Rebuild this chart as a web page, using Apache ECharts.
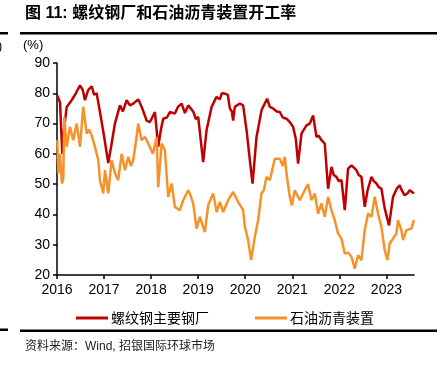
<!DOCTYPE html>
<html><head><meta charset="utf-8">
<script src="https://cdn.jsdelivr.net/npm/echarts@6/dist/echarts.min.js"></script>
<style>html,body{margin:0;padding:0;background:#fff}#c{width:445px;height:365px}</style>
</head><body><div id="c"></div>
<script>
const titleText = '图 11: 螺纹钢厂和石油沥青装置开工率';
const sourceText = '资料来源：Wind, 招银国际环球市场';
const yearTicks = [2016, 2017, 2018, 2019, 2020, 2021, 2022, 2023];
const seriesNames = ['螺纹钢主要钢厂', '石油沥青装置'];

// 螺纹钢主要钢厂: time (decimal year) and value (%)
const steelT = [2016.006,2016.064,2016.113,2016.149,2016.206,2016.312,2016.40,2016.488,2016.55,2016.594,2016.66,2016.737,2016.79,2016.843,2016.913,2016.998,2017.089,2017.146,2017.231,2017.338,2017.40,2017.48,2017.55,2017.62,2017.726,2017.80,2017.904,2017.974,2018.081,2018.151,2018.208,2018.257,2018.335,2018.399,2018.505,2018.569,2018.648,2018.718,2018.788,2018.82,2018.894,2018.95,2019.0,2019.036,2019.106,2019.178,2019.285,2019.39,2019.46,2019.503,2019.567,2019.63,2019.673,2019.715,2019.743,2019.779,2019.885,2019.955,2020.028,2020.098,2020.155,2020.24,2020.346,2020.395,2020.465,2020.522,2020.592,2020.67,2020.735,2020.798,2020.877,2020.947,2021.017,2021.074,2021.123,2021.195,2021.301,2021.372,2021.442,2021.478,2021.514,2021.56,2021.62,2021.69,2021.76,2021.832,2021.88,2021.938,2021.987,2022.045,2022.115,2022.185,2022.257,2022.306,2022.363,2022.41,2022.469,2022.539,2022.60,2022.682,2022.73,2022.788,2022.837,2022.894,2022.964,2023.055,2023.14,2023.219,2023.282,2023.325,2023.389,2023.45,2023.495,2023.537,2023.586];
const steelV = [79.3,77,60,68,75.5,77.7,80,82.6,81,77.7,81,82.3,79.5,80,73.8,66,57,62,70,76,74,77.7,76,76.6,78,75.5,71,70.5,73.8,62.3,68,71.6,72,73.8,73.3,75.5,76.6,73.5,76,76,74,71.5,72.2,71.6,57.3,67.8,75.5,78.8,78,80,79.9,79.5,75,74,71,75.5,76.6,76,67.8,57.9,50.2,65.6,74.4,76,78.2,75.5,75,74,73.8,72,71.6,70.5,68.9,65,56.8,66.7,69.4,70,72.7,72.2,65.6,66,64.5,63.4,48.5,55.7,53,52.4,51,51.3,41.4,55.1,56.2,55.5,54.6,53,52.4,42.5,48,52.4,51,50.2,49,48.5,42,36.4,45.8,48.5,49.6,48,46.3,47,48,47.5,46.9];

// 石油沥青装置
const asphaltT = [2016.006,2016.03,2016.064,2016.106,2016.134,2016.155,2016.206,2016.276,2016.346,2016.418,2016.488,2016.558,2016.631,2016.68,2016.737,2016.807,2016.877,2016.913,2016.983,2017.019,2017.089,2017.161,2017.231,2017.301,2017.374,2017.444,2017.514,2017.57,2017.62,2017.677,2017.726,2017.798,2017.868,2017.974,2018.038,2018.117,2018.151,2018.223,2018.293,2018.363,2018.435,2018.505,2018.611,2018.682,2018.788,2018.845,2018.894,2018.966,2019.036,2019.142,2019.212,2019.318,2019.391,2019.461,2019.531,2019.637,2019.743,2019.849,2019.955,2019.992,2020.062,2020.125,2020.204,2020.274,2020.346,2020.395,2020.452,2020.522,2020.628,2020.735,2020.798,2020.841,2020.877,2020.947,2020.99,2021.053,2021.159,2021.265,2021.335,2021.408,2021.478,2021.548,2021.62,2021.69,2021.76,2021.832,2021.902,2021.972,2022.045,2022.115,2022.185,2022.257,2022.327,2022.397,2022.469,2022.539,2022.609,2022.682,2022.752,2022.822,2022.894,2022.964,2023.021,2023.07,2023.14,2023.212,2023.246,2023.318,2023.352,2023.425,2023.531,2023.586];
const asphaltV = [64.5,53.6,60,50.2,52,72.2,62.3,68.9,64.5,70,62.3,75.5,66.7,68,66.1,62.3,57.9,51.3,46.9,54.6,47,57.9,53.6,51.3,60,54.6,59,56,57.9,64,70,64.5,65.6,62.3,60,65.6,49,63.4,61.2,45.8,50.2,42.5,41.4,44.7,48,46,43.6,35.3,39.2,34.2,43,46.9,40.8,44.1,40.8,44.7,47.4,44.1,41.4,35.9,31.5,24.9,32.6,38.1,47,48,52.4,51.3,58.4,58.4,56,59,53.5,45.8,43,48,44.7,48,50,44.7,46.9,40.3,43.6,39.2,45.8,41.4,38.1,33.7,32,27.1,27.4,26,22.1,26.5,24.9,34.8,40.3,39.2,45.8,40.3,35.9,28.2,24.9,30.4,32,33.7,38.1,34.8,31.5,34.8,35.3,38.1];

const steelData = steelT.map((t, i) => [t, steelV[i]]);
const asphaltData = asphaltT.map((t, i) => [t, asphaltV[i]]);

const chart = echarts.init(document.getElementById('c'));
const sans = '"Liberation Sans", Arial, "Noto Sans CJK SC", sans-serif';
const cjk = '"Noto Sans CJK SC", "Liberation Sans", sans-serif';
chart.setOption({
  animation: false,
  backgroundColor: '#fff',
  grid: { left: 57, right: 31, top: 63, bottom: 90 },
  xAxis: {
    type: 'value', min: 2016, max: 2023.586,
    axisLine: { show: true, lineStyle: { color: '#000', width: 1.5 } },
    axisTick: { show: true, length: 4, lineStyle: { color: '#000', width: 1.5 }, customValues: yearTicks },
    axisLabel: { customValues: yearTicks, color: '#000', fontSize: 14, fontFamily: sans, margin: 8,
      formatter: v => String(Math.round(v)) },
    splitLine: { show: false }
  },
  yAxis: {
    type: 'value', min: 20, max: 90, interval: 10,
    axisLine: { show: true, lineStyle: { color: '#000', width: 1.5 } },
    axisTick: { show: true, length: 4, lineStyle: { color: '#000', width: 1.5 } },
    axisLabel: { color: '#000', fontSize: 14, fontFamily: sans, margin: 7 },
    splitLine: { show: false }
  },
  legend: {
    left: 71, top: 306, itemWidth: 32, itemHeight: 3, itemGap: 46, icon: 'rect',
    textStyle: { fontSize: 14, fontFamily: cjk, color: '#000', padding: [0, 0, 0, -2] },
    data: seriesNames
  },
  series: [
    { name: seriesNames[0], type: 'line', data: steelData, showSymbol: false, symbol: 'none',
      lineStyle: { color: '#C00000', width: 2.5 }, itemStyle: { color: '#C00000' } },
    { name: seriesNames[1], type: 'line', data: asphaltData, showSymbol: false, symbol: 'none',
      lineStyle: { color: '#F7922A', width: 2.5 }, itemStyle: { color: '#F7922A' } }
  ],
  graphic: [
    { type: 'text', left: 25, top: 6, style: { text: titleText, fontSize: 16, fontWeight: 'bold', fontFamily: sans, fill: '#000' } },
    { type: 'rect', shape: { x: 20, y: 32, width: 417, height: 2.5 }, style: { fill: '#000' } },
    { type: 'rect', shape: { x: 0, y: 32, width: 8, height: 2.5 }, style: { fill: '#000' } },
    { type: 'text', left: -2, top: 40, style: { text: ')', fontSize: 13, fontFamily: sans, fill: '#000' } },
    { type: 'text', left: 23, top: 39, style: { text: '(%)', fontSize: 13, fontFamily: sans, fill: '#000' } },
    { type: 'rect', shape: { x: 20, y: 329.5, width: 417, height: 2.5 }, style: { fill: '#000' } },
    { type: 'rect', shape: { x: 0, y: 328.5, width: 8, height: 2.5 }, style: { fill: '#000' } },
    { type: 'text', left: 25, top: 341, style: { text: sourceText, fontSize: 12, fontFamily: sans, fill: '#222' } }
  ]
});
</script></body></html>
